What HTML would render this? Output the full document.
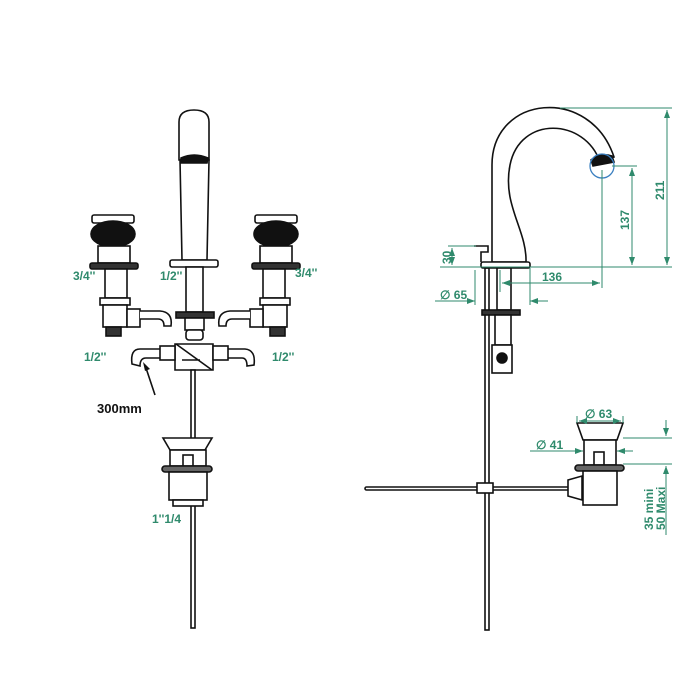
<!DOCTYPE html>
<html><head><meta charset="utf-8"><style>
html,body{margin:0;padding:0;background:#fff;}
svg{display:block;}
text{font-family:"Liberation Sans",sans-serif;font-weight:bold;}
.g{fill:#2f8a6c;font-size:12px;}
.k{fill:#111;}
</style></head><body>
<svg width="700" height="700" viewBox="0 0 700 700">
<defs>
<marker id="a" markerWidth="8" markerHeight="6" refX="8" refY="3" orient="auto-start-reverse"><path d="M0,0 L8,3 L0,6 z" fill="#2f8a6c"/></marker>
</defs>
<g fill="#fff" stroke="#111" stroke-width="1.6">
<path d="M179,160 L179,122 Q179,110 194,110 Q209,110 209,122 L209,160 Z"/>
<path d="M180,160 L182,260 L207,260 L209,160 Z"/>
<path d="M181,158 Q194,152 208,158 L207,163 L181,163 Z" fill="#111"/>
<rect x="170" y="260" width="48" height="7" rx="2"/>
<rect x="186" y="267" width="17" height="45"/>
<rect x="176" y="312" width="38" height="6" fill="#333"/>
<rect x="185" y="318" width="19" height="12"/>
<rect x="186" y="330" width="17" height="10" rx="3"/>
<path d="M175,344 L213,344 L213,370 L175,370 Z"/>
<path d="M176,344 L212,370 M182,360 L200,360" />
<path d="M175,349 L140,349 Q130,349 132,364 L140,366 Q140,358 146,358 L175,358" />
<path d="M213,349 L245,349 Q256,350 254,365 L247,366 Q247,358 242,358 L213,358" />
<rect x="160" y="346" width="15" height="14"/><rect x="213" y="346" width="15" height="14"/>
<rect x="191" y="370" width="4" height="258"/>
<rect x="92" y="215" width="42" height="8" rx="2"/>
<ellipse cx="113" cy="234" rx="22" ry="13" fill="#111"/>
<rect x="98" y="246" width="32" height="17"/>
<rect x="90" y="263" width="48" height="6" rx="2" fill="#333"/>
<rect x="105" y="269" width="22" height="29"/>
<rect x="100" y="298" width="30" height="7"/>
<rect x="103" y="305" width="24" height="22"/>
<rect x="106" y="327" width="15" height="9" fill="#333"/>
<rect x="127" y="309" width="13" height="18"/>
<path d="M140,311 L160,311 Q173,312 171,326 L164,326 Q164,319 158,319 L140,319"/>
<rect x="255" y="215" width="42" height="8" rx="2"/>
<ellipse cx="276" cy="234" rx="22" ry="13" fill="#111"/>
<rect x="260" y="246" width="32" height="17"/>
<rect x="252" y="263" width="48" height="6" rx="2" fill="#333"/>
<rect x="263" y="269" width="22" height="29"/>
<rect x="260" y="298" width="30" height="7"/>
<rect x="263" y="305" width="24" height="22"/>
<rect x="270" y="327" width="15" height="9" fill="#333"/>
<rect x="250" y="309" width="13" height="18"/>
<path d="M250,311 L230,311 Q217,312 219,326 L226,326 Q226,319 232,319 L250,319"/>
<path d="M163,438 L212,438 L205,450 L170,450 Z"/>
<rect x="170" y="450" width="36" height="16"/>
<rect x="183" y="455" width="10" height="11"/>
<rect x="162" y="466" width="50" height="6" rx="3" fill="#666"/>
<rect x="169" y="472" width="38" height="28"/>
<rect x="173" y="500" width="30" height="6"/>
<rect x="485" y="268" width="4" height="362"/>
<path d="M492,262 L492,165 C492,95 590,85 614,157 L600,162 C585,118 520,115 510,165 C502,205 527,230 526,262 Z"/>
<path d="M591,160 Q600,152 612,156 L614,162 L593,166 Z" fill="#111"/>
<path d="M474,246 L488,246 L488,252 L481,252 L481,262" fill="none"/>
<rect x="481" y="262" width="49" height="6" rx="2"/>
<rect x="497" y="268" width="14" height="42"/>
<rect x="482" y="310" width="38" height="5" fill="#333"/>
<rect x="495" y="315" width="16" height="30"/>
<rect x="492" y="345" width="20" height="28"/>
<circle cx="502" cy="358" r="5" fill="#111"/>
<rect x="365" y="487" width="205" height="3" rx="1.5"/>
<rect x="477" y="483" width="16" height="10"/>
<path d="M568,480 L582,476 L582,500 L568,496 Z"/>
<path d="M577,423 L623,423 L617,440 L583,440 Z"/>
<rect x="584" y="440" width="32" height="25"/>
<rect x="594" y="452" width="10" height="13"/>
<rect x="575" y="465" width="49" height="6" rx="3" fill="#666"/>
<rect x="583" y="471" width="34" height="34"/>
<path d="M155,395 L146,368" fill="none"/>
</g>
<path d="M143,362 L150,369 L145,371 Z" fill="#111"/>
<circle cx="602" cy="166" r="12" fill="none" stroke="#3a7fc0" stroke-width="1.3"/>
<g stroke="#2f8a6c" stroke-width="1" fill="none">
<path d="M560,108 L672,108 M440,267 L672,267"/>
<path d="M667,110 L667,265" marker-start="url(#a)" marker-end="url(#a)"/>
<path d="M612,166 L637,166"/>
<path d="M632,168 L632,265" marker-start="url(#a)" marker-end="url(#a)"/>
<path d="M602,170 L602,288 M500,270 L500,292"/>
<path d="M502,283 L600,283" marker-start="url(#a)" marker-end="url(#a)"/>
<path d="M448,246 L476,246"/>
<path d="M452,248 L452,265" marker-start="url(#a)" marker-end="url(#a)"/>
<path d="M435,301 L475,301" marker-end="url(#a)"/>
<path d="M548,301 L530,301" marker-end="url(#a)"/>
<path d="M475,270 L475,305 M530,268 L530,305"/>
<path d="M577,416 L577,423 M623,416 L623,423"/>
<path d="M579,421 L621,421" marker-start="url(#a)" marker-end="url(#a)"/>
<path d="M530,451 L583,451" marker-end="url(#a)"/>
<path d="M633,451 L617,451" marker-end="url(#a)"/>
<path d="M623,438 L672,438 M623,464 L672,464"/>
<path d="M666,420 L666,436" marker-end="url(#a)"/>
<path d="M666,535 L666,466" marker-end="url(#a)"/>
</g>
<text class="g" x="73" y="280">3/4''</text>
<text class="g" x="160" y="280">1/2''</text>
<text class="g" x="295" y="277">3/4''</text>
<text class="g" x="84" y="361">1/2''</text>
<text class="g" x="272" y="361">1/2''</text>
<text class="k" x="97" y="413" font-size="13">300mm</text>
<text class="g" x="152" y="523">1''1/4</text>
<text class="g" x="542" y="281">136</text>
<text class="g" x="440" y="299">∅ 65</text>
<text class="g" x="585" y="418">∅ 63</text>
<text class="g" x="536" y="449">∅ 41</text>
<text class="g" transform="translate(664,200) rotate(-90)">211</text>
<text class="g" transform="translate(629,230) rotate(-90)">137</text>
<text class="g" transform="translate(451,264) rotate(-90)">30</text>
<text class="g" transform="translate(653,530) rotate(-90)">35 mini</text>
<text class="g" transform="translate(665,530) rotate(-90)">50 Maxi</text>
</svg>
</body></html>
